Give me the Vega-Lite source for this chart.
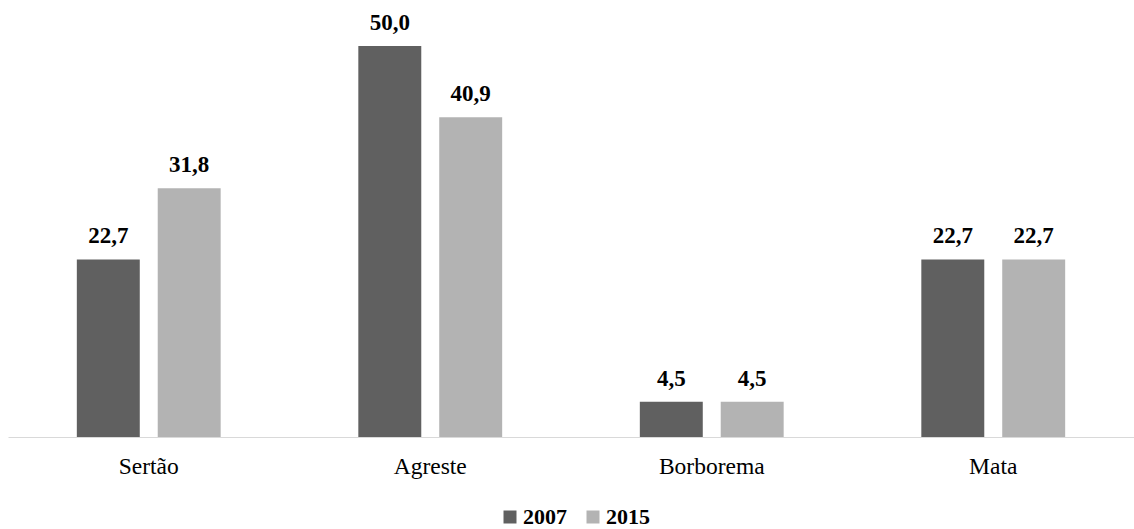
{
  "$schema": "https://vega.github.io/schema/vega-lite/v6.json",
  "autosize": {"type": "none"},
  "width": 1126,
  "height": 391,
  "padding": {"left": 8, "top": 46, "right": 0, "bottom": 92},
  "background": "white",
  "config": {
    "locale": {"number": {"decimal": ",", "thousands": ".", "grouping": [3], "currency": ["R$", ""]}},
    "view": {"stroke": null},
    "font": "Liberation Serif"
  },
  "data": {
    "values": [
      {"regiao": "Sertão", "ano": "2007", "percentual": 22.7},
      {"regiao": "Sertão", "ano": "2015", "percentual": 31.8},
      {"regiao": "Agreste", "ano": "2007", "percentual": 50.0},
      {"regiao": "Agreste", "ano": "2015", "percentual": 40.9},
      {"regiao": "Borborema", "ano": "2007", "percentual": 4.5},
      {"regiao": "Borborema", "ano": "2015", "percentual": 4.5},
      {"regiao": "Mata", "ano": "2007", "percentual": 22.7},
      {"regiao": "Mata", "ano": "2015", "percentual": 22.7}
    ]
  },
  "encoding": {
    "x": {
      "field": "regiao",
      "type": "nominal",
      "sort": ["Sertão", "Agreste", "Borborema", "Mata"],
      "scale": {"paddingInner": 0.489, "paddingOuter": 0.2445},
      "axis": {
        "title": null,
        "labelAngle": 0,
        "ticks": false,
        "domainColor": "#d9d9d9",
        "domainWidth": 1,
        "labelFont": "Liberation Serif",
        "labelFontSize": 23.5,
        "labelColor": "#000000",
        "labelBaseline": "alphabetic",
        "labelPadding": 36
      }
    },
    "xOffset": {
      "field": "ano",
      "type": "nominal",
      "scale": {"paddingInner": 0.222, "paddingOuter": 0}
    },
    "y": {
      "field": "percentual",
      "type": "quantitative",
      "scale": {"domain": [0, 50], "nice": false, "zero": true},
      "axis": null
    }
  },
  "layer": [
    {
      "mark": {"type": "bar"},
      "encoding": {
        "color": {
          "field": "ano",
          "type": "nominal",
          "scale": {"domain": ["2007", "2015"], "range": ["#606060", "#b3b3b3"]},
          "legend": {
            "title": null,
            "orient": "none",
            "direction": "horizontal",
            "legendX": 491,
            "legendY": 460,
            "padding": 0,
            "symbolType": "square",
            "symbolSize": 169,
            "symbolStrokeWidth": 0,
            "labelFont": "Liberation Serif",
            "labelFontSize": 22,
            "labelFontWeight": "bold",
            "labelColor": "#000000",
            "labelOffset": 2,
            "columnPadding": 15
          }
        }
      }
    },
    {
      "mark": {
        "type": "text",
        "baseline": "alphabetic",
        "dy": -16,
        "font": "Liberation Serif",
        "fontSize": 23,
        "fontWeight": "bold",
        "color": "#000000"
      },
      "encoding": {
        "text": {"field": "percentual", "type": "quantitative", "format": ".1f"}
      }
    }
  ]
}
